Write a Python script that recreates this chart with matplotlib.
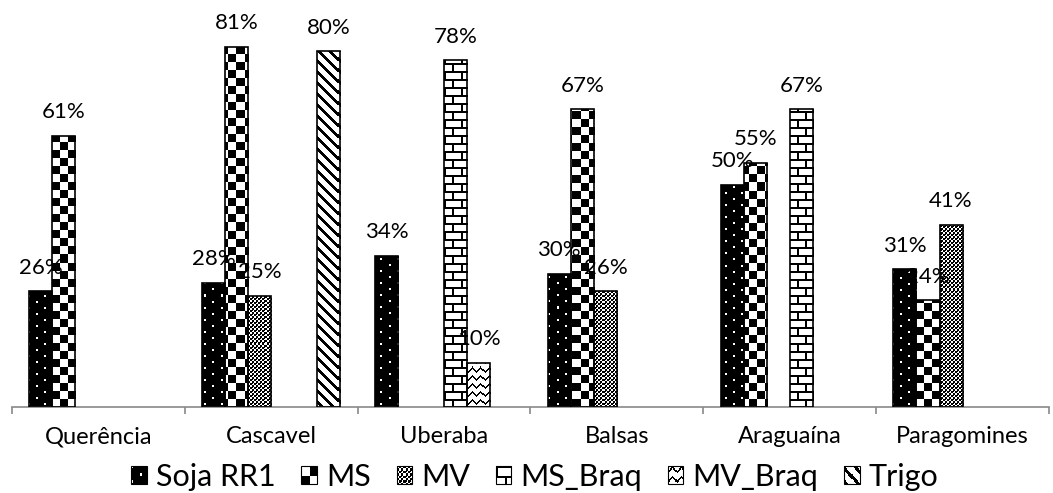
import numpy as np
import matplotlib
matplotlib.use("Agg")
import matplotlib.pyplot as plt
from matplotlib.patches import Rectangle
from matplotlib.legend_handler import HandlerBase
from matplotlib.image import BboxImage
from matplotlib.transforms import Bbox, TransformedBbox
from matplotlib.colors import Normalize

plt.rcParams["font.family"] = ["Lato", "DejaVu Sans"]

cities = ["Querência", "Cascavel", "Uberaba", "Balsas", "Araguaína", "Paragomines"]
series = ["Soja RR1", "MS", "MV", "MS_Braq", "MV_Braq", "Trigo"]
nan = np.nan
soja = [0.26, 0.28, 0.34, 0.30, 0.50, 0.31]
ms = [0.61, 0.81, nan, 0.67, 0.55, 0.24]
mv = [nan, 0.25, nan, 0.26, nan, 0.41]
ms_braq = [nan, nan, 0.78, nan, 0.67, nan]
mv_braq = [nan, nan, 0.10, nan, nan, nan]
trigo = [nan, 0.80, nan, nan, nan, nan]
values = [soja, ms, mv, ms_braq, mv_braq, trigo]


def make_pattern(kind, h, w):
    # 1 = black, 0 = white
    r, c = np.mgrid[0:h, 0:w]
    if kind == "dots":
        p = np.ones((h, w))
        d1 = (r % 12 < 2) & (c % 16 < 2)
        d2 = ((r - 6) % 12 < 2) & ((c - 8) % 16 < 2)
        p[d1 | d2] = 0
    elif kind == "checker":
        p = ((r // 8 + c // 8) % 2).astype(float)
    elif kind == "finecheck":
        p = ((r // 2 + c // 2) % 2).astype(float)
        p[(r % 4 == 0) & (c % 4 == 0)] = 1
    elif kind == "bricks":
        row = r // 8
        hline = r % 8 < 2
        vline = ((c + (row % 2) * 8) % 16) < 2
        p = (hline | vline).astype(float)
    elif kind == "zigzag":
        zz = np.abs((c % 8) - 4)
        p = (((r - zz) % 8) < 2).astype(float)
    else:  # diagonal
        p = (((r - c) % 11) < 4).astype(float)
    return p


kinds = ["dots", "checker", "finecheck", "bricks", "zigzag", "diagonal"]

W, H = 1053, 493
fig = plt.figure(figsize=(W / 100, H / 100), dpi=100)
ax_left, ax_bottom, ax_top = 12, 407, 7
ax = fig.add_axes([ax_left / W, (H - ax_bottom) / H, 1037 / W, (ax_bottom - ax_top) / H])
ax_w, ax_h = 1037, ax_bottom - ax_top
ymax = 0.9
xlim = (-0.5, len(cities) - 0.5)

x = np.arange(len(cities))
bw = 1 / 7.5
for i, (name, vals, kind) in enumerate(zip(series, values, kinds)):
    pat = make_pattern(kind, ax_h, ax_w)
    bars = ax.bar(x + (i - 2.5) * bw, vals, bw, facecolor="none",
                  edgecolor="black", linewidth=1.2, zorder=3)
    for b, v in zip(bars, vals):
        if np.isnan(v):
            continue
        im = ax.imshow(pat, cmap="binary", norm=Normalize(0, 1),
                       extent=(xlim[0], xlim[1], 0, ymax), aspect="auto",
                       interpolation="nearest", zorder=2)
        im.set_clip_path(b)
        ax.annotate(f"{v:.0%}", (b.get_x() + b.get_width() / 2, v),
                    xytext=(0, 17), textcoords="offset points",
                    ha="center", va="center", fontsize=16, zorder=4)

ax.set_xlim(*xlim)
ax.set_ylim(0, ymax)
ax.set_yticks([])
for s in ["top", "right", "left"]:
    ax.spines[s].set_visible(False)
ax.spines["bottom"].set_color("#898989")
ax.spines["bottom"].set_linewidth(1.2)
ax.set_xticks(np.arange(len(cities) + 1) - 0.5)
ax.set_xticklabels([])
ax.tick_params(axis="x", which="major", length=5, color="#898989", width=1.2)
ax.set_xticks(x, minor=True)
ax.set_xticklabels(cities, minor=True, fontsize=17)
ax.tick_params(axis="x", which="minor", length=0, pad=14)


class PatternHandler(HandlerBase):
    def __init__(self, tile):
        super().__init__()
        self.tile = tile

    def create_artists(self, legend, orig_handle, xdescent, ydescent,
                       width, height, fontsize, trans):
        bb = TransformedBbox(Bbox.from_bounds(-xdescent, -ydescent, width, height), trans)
        img = BboxImage(bb, cmap="binary", norm=Normalize(0, 1), interpolation="nearest")
        img.set_data(self.tile)
        frame = Rectangle((-xdescent, -ydescent), width, height, fill=False,
                          edgecolor="black", linewidth=0.8, transform=trans)
        return [img, frame]


handles = []
hmap = {}
for name, kind in zip(series, kinds):
    h = Rectangle((0, 0), 1, 1, label=name)
    handles.append(h)
    hmap[h] = PatternHandler(make_pattern(kind, 15, 15))

fig.legend(handles=handles, handler_map=hmap, loc="center",
           bbox_to_anchor=(0.508, 16 / H), ncol=6, frameon=False,
           fontsize=22, handlelength=0.5, handleheight=0.5,
           handletextpad=0.3, columnspacing=0.85, borderpad=0, borderaxespad=0)

fig.savefig("out.png", dpi=100)
